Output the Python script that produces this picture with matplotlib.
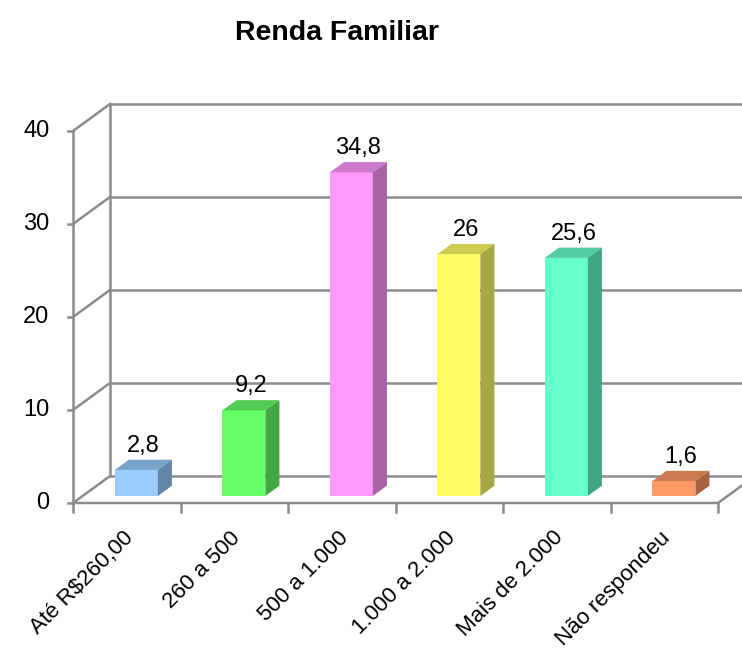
import numpy as np
import matplotlib.pyplot as plt
from matplotlib.patches import Polygon
from matplotlib.colors import to_rgb

plt.rcParams['font.family'] = ['Liberation Sans', 'DejaVu Sans']

# Dados
categorias = ["Até R$260,00", "260 a 500", "500 a 1.000", "1.000 a 2.000", "Mais de 2.000", "Não respondeu"]
valores = [2.8, 9.2, 34.8, 26, 25.6, 1.6]
rotulos = ["2,8", "9,2", "34,8", "26", "25,6", "1,6"]
cores = ["#99CCFF", "#66FF66", "#FF99FF", "#FFFF66", "#66FFCC", "#FF9966"]
niveis = [0, 10, 20, 30, 40]

# Projecao obliqua (profundidade em unidades dos dados)
ddx = 37 / 107.5
ddy = 27 / 9.3
def proj(x, y, d):
    return (x + d * ddx, y + d * ddy)

fig = plt.figure(figsize=(7.42, 6.51), dpi=100)
ax = fig.add_axes([0, 0, 1, 1])
ax.set_xlim(-0.5 - 73 / 107.5, -0.5 + (742 - 73) / 107.5)
ax.set_ylim(-(651 - 503) / 9.3, 503 / 9.3)
ax.axis('off')

cinza = "#8C8C8C"
lw = 1.8
x0, x1 = -0.5, len(categorias) - 0.5

# Paredes e grade
for v in niveis:
    ax.plot(*zip(proj(x0, v, 1), proj(x1 + 1, v, 1)), color=cinza, lw=lw, zorder=1)
    ax.plot(*zip(proj(x0, v, 0), proj(x0, v, 1)), color=cinza, lw=lw, zorder=1)
    ax.plot(*zip(proj(x0 - 0.05, v, 0), proj(x0, v, 0)), color=cinza, lw=lw, zorder=1)
    ax.text(x0 - 0.22, v, str(v), ha='right', va='center', fontsize=17)
ax.plot(*zip(proj(x0, 0, 1), proj(x0, 40, 1)), color=cinza, lw=lw, zorder=1)
ax.plot(*zip(proj(x0, 0, 0), proj(x0, 40, 0)), color=cinza, lw=lw, zorder=1)
ax.plot(*zip(proj(x0, 0, 0), proj(x1, 0, 0), proj(x1, 0, 1)), color=cinza, lw=lw, zorder=1)
for i in range(len(categorias) + 1):
    xt = x0 + i
    ax.plot([xt, xt], [0, -1.0], color=cinza, lw=lw, zorder=1)

# Barras 3D
d0, d1 = 0.26, 0.64
larg = 0.4
for i, (v, c) in enumerate(zip(valores, cores)):
    base = np.array(to_rgb(c))
    xl, xr = i - larg / 2, i + larg / 2
    frente = [proj(xl, 0, d0), proj(xr, 0, d0), proj(xr, v, d0), proj(xl, v, d0)]
    topo = [proj(xl, v, d0), proj(xr, v, d0), proj(xr, v, d1), proj(xl, v, d1)]
    lado = [proj(xr, 0, d0), proj(xr, 0, d1), proj(xr, v, d1), proj(xr, v, d0)]
    ax.add_patch(Polygon(frente, closed=True, facecolor=base, edgecolor='none', zorder=3))
    ax.add_patch(Polygon(topo, closed=True, facecolor=base * 0.8, edgecolor='none', zorder=3))
    ax.add_patch(Polygon(lado, closed=True, facecolor=base * 0.65, edgecolor='none', zorder=3))
    lx, ly = proj(i, v, (d0 + d1) / 2)
    ax.text(lx, v + d1 * ddy + 0.3, rotulos[i], ha='center', va='bottom', fontsize=17, zorder=4)
    ax.text(i + 0.03, -3.4, categorias[i], rotation=45, rotation_mode='anchor',
            ha='right', va='center', fontsize=16)

fig.text(337 / 742, 1 - 33 / 651, "Renda Familiar", ha='center', va='center',
         fontsize=20.5, fontweight='bold')

fig.savefig("out.png", dpi=100)
